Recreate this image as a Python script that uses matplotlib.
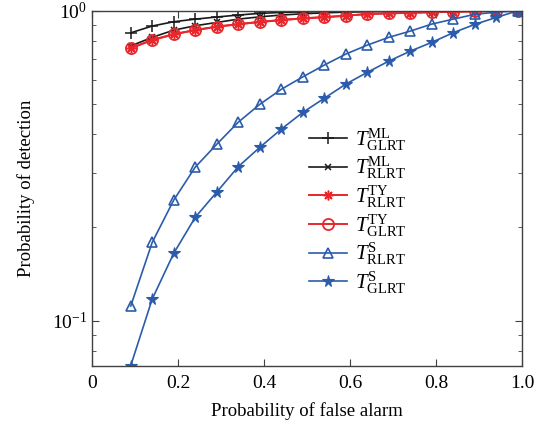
import matplotlib
matplotlib.use("Agg")
import matplotlib.pyplot as plt
import numpy as np

# Probability of false alarm (x) and detection curves (y)
pfa = [0.09, 0.14, 0.19, 0.24, 0.29, 0.34, 0.39, 0.44, 0.49, 0.54,
       0.59, 0.64, 0.69, 0.74, 0.79, 0.84, 0.89, 0.94, 0.99]

pd_ml_glrt = [0.849, 0.893, 0.922, 0.940, 0.955, 0.969, 0.981, 0.988, 0.992, 0.995,
              0.997, 0.998, 0.999, 1.0, 1.0, 1.0, 1.0, 1.0, 1.0]
pd_ml_rlrt = [0.770, 0.821, 0.866, 0.895, 0.917, 0.940, 0.956, 0.969, 0.978, 0.985,
              0.990, 0.993, 0.995, 0.997, 0.998, 0.999, 1.0, 1.0, 1.0]
pd_ty_rlrt = [0.757, 0.806, 0.841, 0.867, 0.889, 0.906, 0.921, 0.934, 0.946, 0.954,
              0.965, 0.976, 0.982, 0.986, 0.990, 0.993, 0.996, 0.998, 1.0]
pd_ty_glrt = [0.758, 0.804, 0.839, 0.866, 0.888, 0.905, 0.920, 0.933, 0.945, 0.953,
              0.964, 0.976, 0.981, 0.985, 0.989, 0.993, 0.996, 0.998, 1.0]
pd_s_rlrt = [0.1115, 0.179, 0.245, 0.313, 0.371, 0.437, 0.499, 0.558, 0.612, 0.668,
             0.725, 0.775, 0.821, 0.860, 0.906, 0.940, 0.974, 0.990, 1.0]
pd_s_glrt = [0.0716, 0.1175, 0.165, 0.2156, 0.260, 0.314, 0.3625, 0.415, 0.470, 0.522,
             0.580, 0.633, 0.688, 0.741, 0.791, 0.850, 0.904, 0.952, 1.0]

labels = [r'$T^{\rm ML}_{\rm GLRT}$', r'$T^{\rm ML}_{\rm RLRT}$',
          r'$T^{\rm TY}_{\rm RLRT}$', r'$T^{\rm TY}_{\rm GLRT}$',
          r'$T^{\rm S}_{\rm RLRT}$', r'$T^{\rm S}_{\rm GLRT}$']

plt.rcParams['font.family'] = 'Liberation Serif'
plt.rcParams['mathtext.fontset'] = 'custom'
plt.rcParams['mathtext.rm'] = 'Liberation Serif'
plt.rcParams['mathtext.it'] = 'Liberation Serif:italic'
plt.rcParams['mathtext.bf'] = 'Liberation Serif:bold'

black = '#1a1a1a'
red = '#e8262b'
blue = '#2b5cab'
asterisk = (8, 2, 0)  # MATLAB-style '*' (line asterisk)

fig = plt.figure(figsize=(5.49, 4.32), dpi=100)
ax = fig.add_axes([0.1676, 0.1535, 0.7834, 0.8215])

ax.plot(pfa, pd_ml_glrt, '-', marker='+', color=black, lw=1.2, ms=8, mew=1.1, label=labels[0])
ax.plot(pfa, pd_ml_rlrt, '-', marker='x', color=black, lw=1.2, ms=4.5, mew=1.1, label=labels[1])
ax.plot(pfa, pd_ty_rlrt, '-', marker=asterisk, color=red, lw=1.4, ms=7, mew=1.1, label=labels[2])
ax.plot(pfa, pd_ty_glrt, '-', marker='o', color=red, mfc='none', lw=1.4, ms=8, mew=1.3,
        label=labels[3])
ax.plot(pfa, pd_s_rlrt, '-', marker='^', color=blue, mfc='none', lw=1.2, ms=7.5, mew=1.2,
        label=labels[4])
ax.plot(pfa, pd_s_glrt, '-', marker='*', color=blue, lw=1.2, ms=8.5, mew=0.8, label=labels[5])

ax.set_yscale('log')
ax.set_xlim(0, 1)
ax.set_ylim(0.0716, 1.0)
ax.set_xticks([0, 0.2, 0.4, 0.6, 0.8, 1.0])
ax.set_xticklabels(['0', '0.2', '0.4', '0.6', '0.8', '1.0'])

ax.tick_params(which='both', direction='in', top=True, right=True, labelsize=14,
               color='#404040')
ax.tick_params(which='major', length=5)
ax.tick_params(which='minor', length=3)
ax.tick_params(axis='x', pad=7)
for s in ax.spines.values():
    s.set_color('#404040')
    s.set_linewidth(1.0)

ax.set_xlabel('Probability of false alarm', fontsize=13.5, labelpad=7)
ax.set_ylabel('Probability of detection', fontsize=13.5, labelpad=12)

ax.legend(loc='upper left', bbox_to_anchor=(0.48, 0.705), frameon=False, fontsize=15,
          handlelength=1.85, handletextpad=0.35, labelspacing=0.1, borderpad=0)

fig.savefig('out.png', dpi=100)
